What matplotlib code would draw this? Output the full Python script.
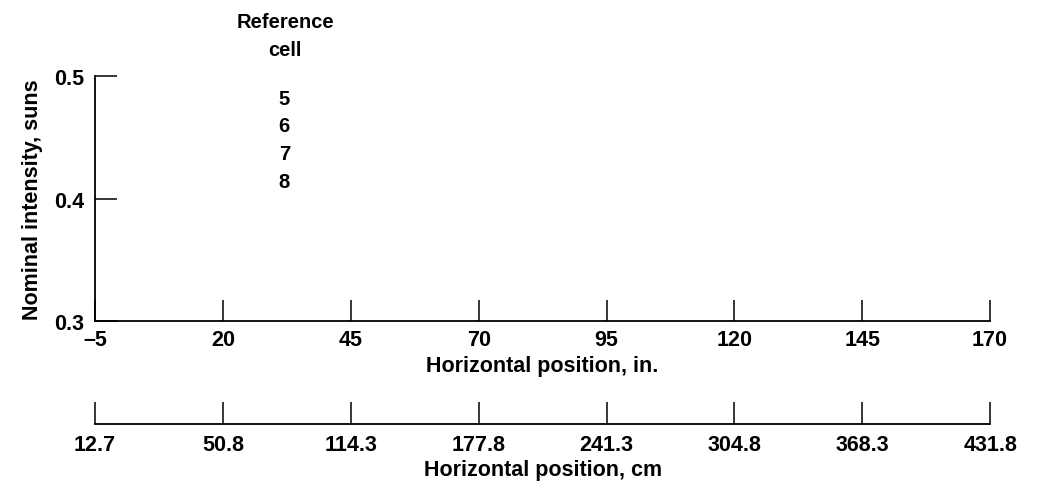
import matplotlib.pyplot as plt

plt.rcParams['font.family'] = ['Liberation Sans', 'DejaVu Sans']
plt.rcParams['font.weight'] = 'bold'

# data: tick values / labels
in_ticks = [-5, 20, 45, 70, 95, 120, 145, 170]
cm_labels = ['12.7', '50.8', '114.3', '177.8', '241.3', '304.8', '368.3', '431.8']
y_ticks = [0.3, 0.4, 0.5]
ref_cells = ['5', '6', '7', '8']

fig = plt.figure(figsize=(10.42, 4.89), dpi=100)

# main axes (inches)
ax = fig.add_axes([0.0912, 0.3415, 0.859, 0.501])
ax.set_xlim(-5, 170)
ax.set_ylim(0.3, 0.5)
for s in ['top', 'right']:
    ax.spines[s].set_visible(False)
for s in ['left', 'bottom']:
    ax.spines[s].set_linewidth(1.3)
ax.set_xticks(in_ticks)
ax.set_xticklabels([str(t).replace('-', '\u2013') for t in in_ticks])
ax.set_yticks(y_ticks)
ax.set_yticklabels(['%.1f' % t for t in y_ticks])
ax.tick_params(axis='x', direction='in', length=15, width=1.1, pad=6, labelsize=15.5)
ax.tick_params(axis='y', direction='in', length=16, width=1.1, pad=8, labelsize=15.5)
ax.set_xlabel('Horizontal position, in.', fontsize=15.5, fontweight='bold', labelpad=3)
ax.set_ylabel('Nominal intensity, suns', fontsize=15.5, fontweight='bold', labelpad=8)

# legend-like label block
fig.text(285 / 1042, 1 - 23 / 489, 'Reference', ha='center', va='center',
         fontsize=14.5, fontweight='bold')
fig.text(285 / 1042, 1 - 51 / 489, 'cell', ha='center', va='center',
         fontsize=14.5, fontweight='bold')
for i, c in enumerate(ref_cells):
    ax.text(32, 0.482 - i * 0.0228, c, ha='center', va='center', fontsize=14.5,
            fontweight='bold')

# secondary scale (cm)
ax2 = fig.add_axes([0.0912, 0.131, 0.859, 0.05])
ax2.set_xlim(-5, 170)
ax2.set_ylim(0, 1)
for s in ['top', 'right', 'left']:
    ax2.spines[s].set_visible(False)
ax2.spines['bottom'].set_linewidth(1.3)
ax2.patch.set_alpha(0)
ax2.set_yticks([])
ax2.set_xticks(in_ticks)
ax2.set_xticklabels(cm_labels)
ax2.tick_params(axis='x', direction='in', length=16, width=1.1, pad=7, labelsize=15.5)
ax2.set_xlabel('Horizontal position, cm', fontsize=15.5, fontweight='bold', labelpad=3)

fig.savefig('out.png', dpi=100)
